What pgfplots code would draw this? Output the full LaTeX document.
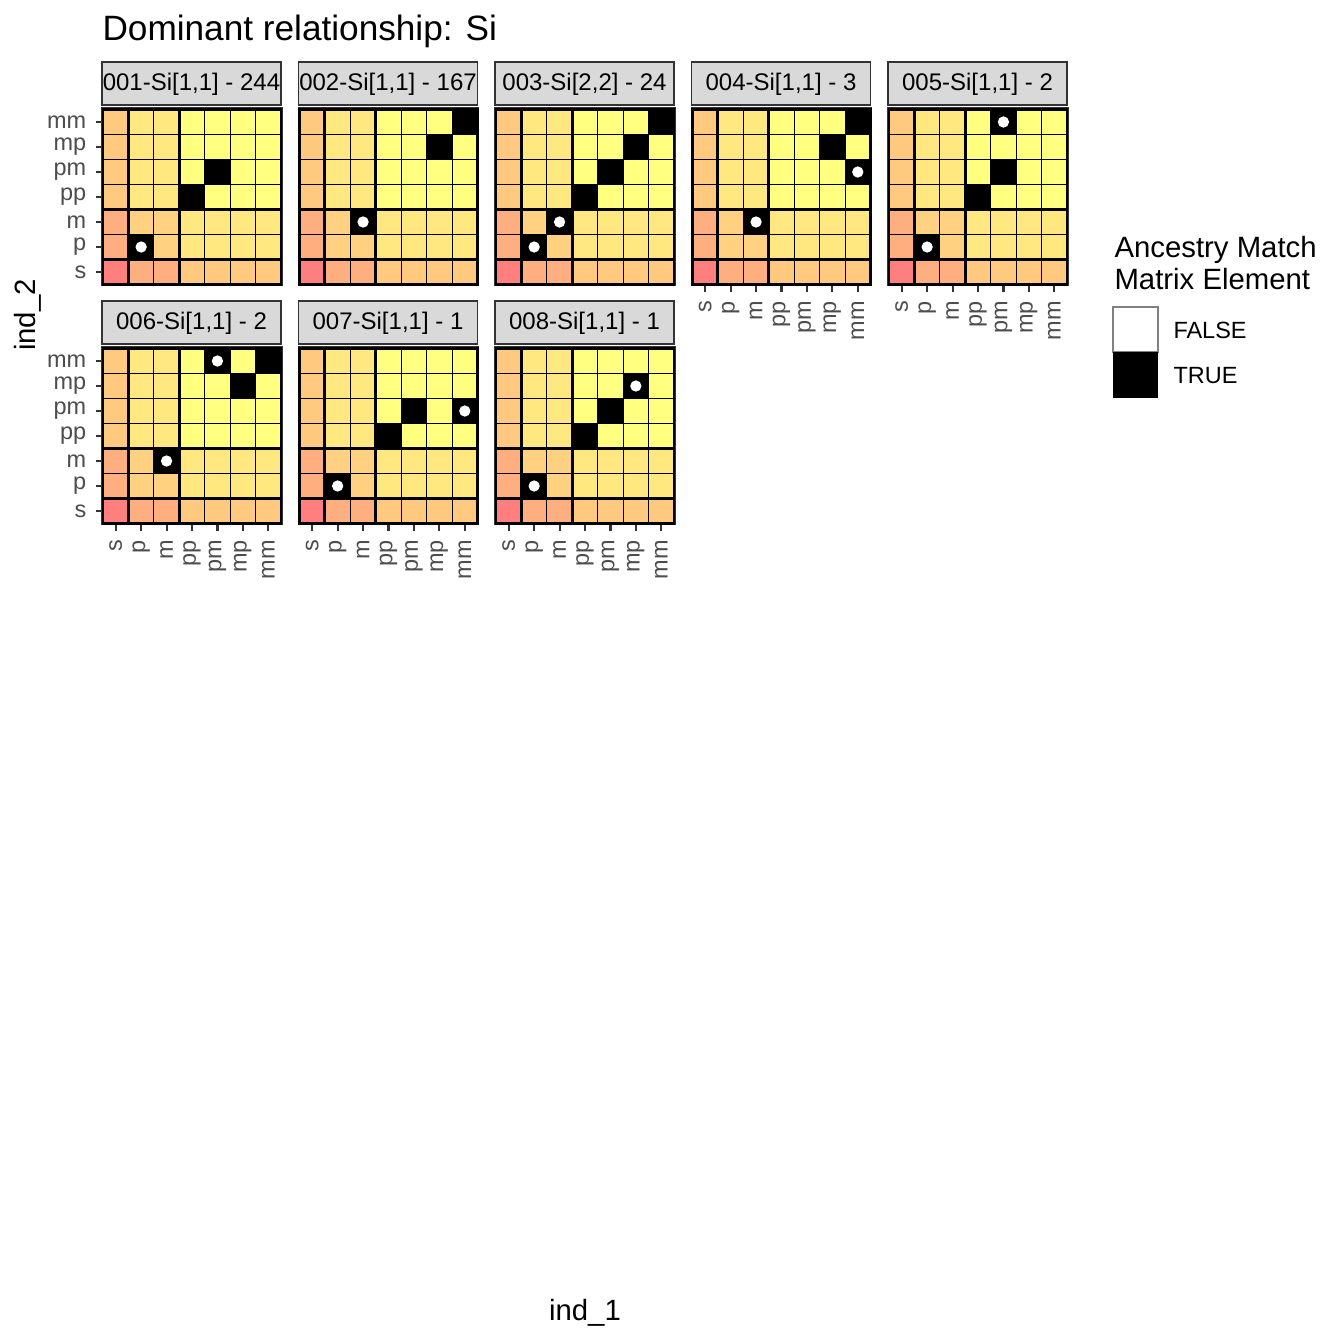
\documentclass[border=0pt]{standalone}
\usepackage{pgfplots}
\usepackage{pgfplotstable}
\pgfplotsset{compat=1.18}
\usepackage{fontspec}
\setmainfont{Liberation Sans}
\definecolor{gtwenty}{HTML}{333333}
\definecolor{gthirty}{HTML}{4D4D4D}
\definecolor{stripfill}{HTML}{D9D9D9}
\def\u{0.375bp}
\pgfplotstableread{
x y c
0 0 0
1 0 1
2 0 1
3 0 2
4 0 2
5 0 2
6 0 2
0 1 1
1 1 3
2 1 3
3 1 4
4 1 4
5 1 4
6 1 4
0 2 1
1 2 3
2 2 3
3 2 4
4 2 4
5 2 4
6 2 4
0 3 2
1 3 4
2 3 4
3 3 5
4 3 5
5 3 5
6 3 5
0 4 2
1 4 4
2 4 4
3 4 5
4 4 5
5 4 5
6 4 5
0 5 2
1 5 4
2 5 4
3 5 5
4 5 5
5 5 5
6 5 5
0 6 2
1 6 4
2 6 4
3 6 5
4 6 5
5 6 5
6 6 5
}\basetable
\pgfplotsset{
  tilepanel/.style={
    scale only axis, width=66.75bp, height=65.625bp, anchor=south west,
    xmin=-0.5, xmax=6.5, ymin=-0.5, ymax=6.5,
    axis on top,
    axis line style={black, line width=1.1bp},
    xtick=\empty, ytick=\empty,
    xtick pos=bottom, ytick pos=left,
    colormap={tiles}{rgb255=(255,127,127) rgb255=(255,175,127) rgb255=(255,201,127) rgb255=(255,209,128) rgb255=(255,232,128) rgb255=(255,255,128)},
    colormap access=direct,
    tick align=outside,
    major tick length=2.75bp,
    tick style={gtwenty, line width=0.8bp},
    tick label style={font=\fontsize{8.8bp}{10bp}\selectfont, text=gthirty},
    xticklabel style={rotate=90, anchor=east},
  },
  ylab/.style={ytick={0,1,2,3,4,5,6}, yticklabels={s,p,m,pp,pm,mp,mm}},
  xlab/.style={xtick={0,1,2,3,4,5,6}, xticklabels={s,p,m,pp,pm,mp,mm}},
}
\newcommand{\basetiles}{%
  \addplot[matrix plot*, mesh/cols=7, point meta=explicit] table[meta=c] {\basetable};
  \draw[line width=0.4bp] (axis cs:1.5,-0.5) -- (axis cs:1.5,6.5);
  \draw[line width=0.4bp] (axis cs:3.5,-0.5) -- (axis cs:3.5,6.5);
  \draw[line width=0.4bp] (axis cs:4.5,-0.5) -- (axis cs:4.5,6.5);
  \draw[line width=0.4bp] (axis cs:5.5,-0.5) -- (axis cs:5.5,6.5);
  \draw[line width=0.4bp] (axis cs:-0.5,1.5) -- (axis cs:6.5,1.5);
  \draw[line width=0.4bp] (axis cs:-0.5,3.5) -- (axis cs:6.5,3.5);
  \draw[line width=0.4bp] (axis cs:-0.5,4.5) -- (axis cs:6.5,4.5);
  \draw[line width=0.4bp] (axis cs:-0.5,5.5) -- (axis cs:6.5,5.5);
}
\newcommand{\seps}{%
  \draw[line width=1.1bp] (axis cs:0.5,-0.5) -- (axis cs:0.5,6.5);
  \draw[line width=1.1bp] (axis cs:2.5,-0.5) -- (axis cs:2.5,6.5);
  \draw[line width=1.1bp] (axis cs:-0.5,0.5) -- (axis cs:6.5,0.5);
  \draw[line width=1.1bp] (axis cs:-0.5,2.5) -- (axis cs:6.5,2.5);
}
\tikzset{blk/.style={only marks, mark=square*, mark size=4.75bp, black, mark options={draw=none}},
  dot/.style={only marks, mark=*, mark size=1.9bp, white, mark options={draw=none}}}
\newcommand{\strip}[3]{% left px, top px, text
  \draw[gtwenty, line width=0.5bp, fill=stripfill] (#1,#2) rectangle ({#1+179},{#2+43});
  \node[font=\fontsize{9bp}{11bp}\selectfont, text=black] at ({#1+89.5},{#2+22}) {#3};
}
\newcommand{\pborder}[2]{% left px, bottom px
  \draw[gtwenty, line width=0.6bp] ({#1-1},{#2+1}) rectangle ({#1+179},{#2-177});
}
\begin{document}
\begin{tikzpicture}
\begin{scope}[x=\u, y=-\u]
\useasboundingbox (0,0) rectangle (1344,1344);
\node[anchor=base west, font=\fontsize{13.2bp}{15bp}\selectfont, inner sep=0pt] at (102,40) {Dominant relationship: Si};
\node[rotate=90, font=\fontsize{11bp}{13bp}\selectfont, inner sep=0pt] at (28,315) {ind\_2};
\node[font=\fontsize{11bp}{13bp}\selectfont, inner sep=0pt] at (585,1313) {ind\_1};
\strip{102}{62}{001-Si[1,1] - 244}
\strip{298.5}{62}{002-Si[1,1] - 167}
\strip{495}{62}{003-Si[2,2] - 24}
\strip{691.5}{62}{004-Si[1,1] - 3}
\strip{888}{62}{005-Si[1,1] - 2}
\strip{102}{301}{006-Si[1,1] - 2}
\strip{298.5}{301}{007-Si[1,1] - 1}
\strip{495}{301}{008-Si[1,1] - 1}
\pborder{103}{284.5}
\pborder{299.5}{284.5}
\pborder{496}{284.5}
\pborder{692.5}{284.5}
\pborder{889}{284.5}
\pborder{103}{523.5}
\pborder{299.5}{523.5}
\pborder{496}{523.5}
% legend
\node[anchor=base west, font=\fontsize{11bp}{13bp}\selectfont, inner sep=0pt] at (1114,257) {Ancestry Match};
\node[anchor=base west, font=\fontsize{11bp}{13bp}\selectfont, inner sep=0pt] at (1114,289) {Matrix Element};
\draw[fill=white, draw=gray, line width=0.4bp] (1113,307) rectangle (1158,352);
\fill[black] (1113,352) rectangle (1158,398);
\node[anchor=west, font=\fontsize{8.8bp}{10bp}\selectfont, inner sep=0pt] at (1173,330) {FALSE};
\node[anchor=west, font=\fontsize{8.8bp}{10bp}\selectfont, inner sep=0pt] at (1173,376) {TRUE};
\end{scope}
% panel 1
\begin{axis}[tilepanel, ylab, at={({103*\u},{-284.5*\u})}]
\basetiles
\addplot[blk] coordinates {(1,1) (3,3) (4,4)};
\seps
\addplot[dot] coordinates {(1,1)};
\end{axis}
% panel 2
\begin{axis}[tilepanel, at={({299.5*\u},{-284.5*\u})}]
\basetiles
\addplot[blk] coordinates {(2,2) (5,5) (6,6)};
\seps
\addplot[dot] coordinates {(2,2)};
\end{axis}
% panel 3
\begin{axis}[tilepanel, at={({496*\u},{-284.5*\u})}]
\basetiles
\addplot[blk] coordinates {(1,1) (2,2) (3,3) (4,4) (5,5) (6,6)};
\seps
\addplot[dot] coordinates {(1,1) (2,2)};
\end{axis}
% panel 4
\begin{axis}[tilepanel, xlab, at={({692.5*\u},{-284.5*\u})}]
\basetiles
\addplot[blk] coordinates {(2,2) (5,5) (6,6) (6,4)};
\seps
\addplot[dot] coordinates {(2,2) (6,4)};
\end{axis}
% panel 5
\begin{axis}[tilepanel, xlab, at={({889*\u},{-284.5*\u})}]
\basetiles
\addplot[blk] coordinates {(1,1) (3,3) (4,4) (4,6)};
\seps
\addplot[dot] coordinates {(1,1) (4,6)};
\end{axis}
% panel 6
\begin{axis}[tilepanel, xlab, ylab, at={({103*\u},{-523.5*\u})}]
\basetiles
\addplot[blk] coordinates {(2,2) (5,5) (6,6) (4,6)};
\seps
\addplot[dot] coordinates {(2,2) (4,6)};
\end{axis}
% panel 7
\begin{axis}[tilepanel, xlab, at={({299.5*\u},{-523.5*\u})}]
\basetiles
\addplot[blk] coordinates {(1,1) (3,3) (4,4) (6,4)};
\seps
\addplot[dot] coordinates {(1,1) (6,4)};
\end{axis}
% panel 8
\begin{axis}[tilepanel, xlab, at={({496*\u},{-523.5*\u})}]
\basetiles
\addplot[blk] coordinates {(1,1) (3,3) (4,4) (5,5)};
\seps
\addplot[dot] coordinates {(1,1) (5,5)};
\end{axis}
\end{tikzpicture}
\end{document}
